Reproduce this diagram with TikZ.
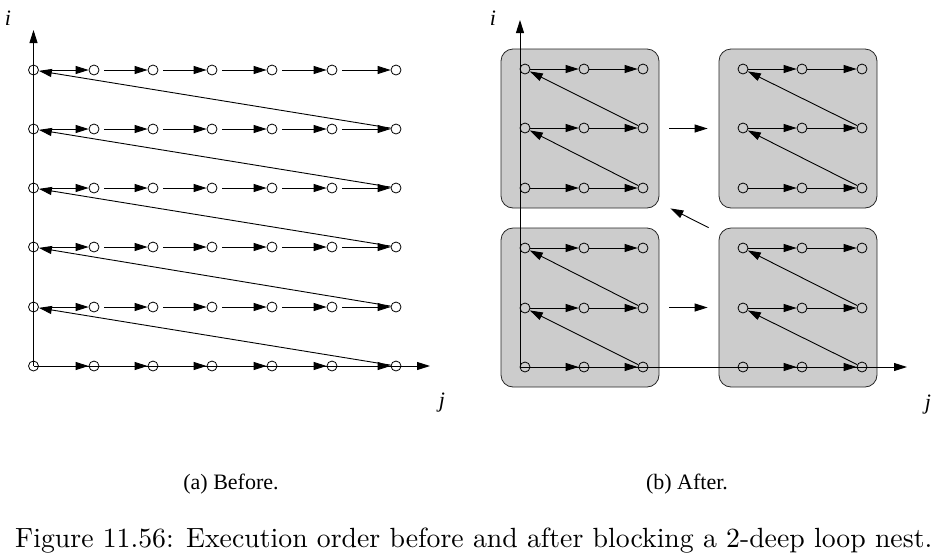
\documentclass[tikz,border=0pt]{standalone}
\usepackage{fontspec}
\newfontfamily\timesf{Liberation Serif}
\usetikzlibrary{arrows.meta}
\begin{document}
\begin{tikzpicture}[x=1pt,y=-1pt,
  pt/.style={circle,draw,line width=0.8pt,inner sep=0pt,minimum size=10pt},
  arr/.style={line width=0.9pt,-{Triangle[length=13pt,width=8pt]}},
  blk/.style={draw=black!85,line width=0.8pt,fill={rgb,255:red,204;green,204;blue,204},rounded corners=12pt,minimum width=158pt,minimum height=159pt,inner sep=0pt},
  lab/.style={font=\timesf\itshape\fontsize{22}{26}\selectfont,inner sep=0pt},
  sub/.style={font=\timesf\fontsize{22}{26}\selectfont,inner sep=0pt,anchor=base}]
\useasboundingbox (0,0) rectangle (938,558);
% ---------- left panel ----------
\foreach \r/\y in {1/70,2/129,3/188,4/247,5/307,6/366} {
  \foreach \c/\x in {1/33.5,2/94,3/153,4/212,5/272,6/332,7/396} {
    \node[pt] (L\r\c) at (\x,\y) {};
  }
}
\coordinate (Li) at (33.5,30);
\coordinate (Lj) at (430,366);
\draw[arr] (L61.center) -- (Li);
\draw[arr] (L61.center) -- (Lj);
\foreach \r in {1,...,5} {
  \foreach \c [evaluate=\c as \n using int(\c+1)] in {1,...,6} {
    \draw[arr,shorten <=5pt] (L\r\c) -- (L\r\n);
  }
}
\foreach \c [evaluate=\c as \n using int(\c+1)] in {1,...,6} {
  \draw[arr] (L6\c) -- (L6\n);
}
\foreach \r [evaluate=\r as \n using int(\r+1)] in {1,...,5} {
  \draw[arr] (L\n7) -- (L\r1);
}
% ---------- right panel ----------
\node[blk] (B1) at (580,128.5) {};
\node[blk] (B2) at (798,128.5) {};
\node[blk] (B3) at (580,307.5) {};
\node[blk] (B4) at (798,307.5) {};
\foreach \r/\y in {1/69,2/128,3/188,4/248,5/308,6/367} {
  \foreach \c/\x in {1/525,2/584,3/643,4/743,5/802,6/862} {
    \node[pt] (R\r\c) at (\x,\y) {};
  }
}
\coordinate (Ro) at (520,367);
\coordinate (Ri) at (520,20);
\coordinate (Rj) at (907,367);
\draw[arr] (Ro) -- (Ri);
\draw[arr] (Ro) -- (Rj);
\foreach \r in {1,...,6} {
  \foreach \a/\b in {1/2,2/3,4/5,5/6} {
    \draw[arr] (R\r\a) -- (R\r\b);
  }
}
\foreach \r [evaluate=\r as \n using int(\r+1)] in {1,2,4,5} {
  \draw[arr] (R\n3) -- (R\r1);
  \draw[arr] (R\n6) -- (R\r4);
}
\draw[arr] ([xshift=10pt]B1.east) -- ([xshift=-11pt]B2.west);
\draw[arr] ([xshift=10pt]B3.east) -- ([xshift=-11pt]B4.west);
\draw[arr] ([xshift=-10pt]B4.north west) -- ([xshift=11pt]B1.south east);
% ---------- labels ----------
\node[lab] (iL) at (8,18) {i};
\node[lab] (jL) at (442,403) {j};
\node[lab] (iR) at (493,18) {i};
\node[lab] (jR) at (928,405) {j};
\node[sub] (ca) at (231,489) {(a) Before.};
\node[sub] (cb) at (687,489) {(b) After.};
\node[anchor=base west,inner sep=0pt] (cap) at (15,547) {\resizebox{917pt}{!}{Figure 11.56: Execution order before and after blocking a 2-deep loop nest.}};
\end{tikzpicture}
\end{document}
